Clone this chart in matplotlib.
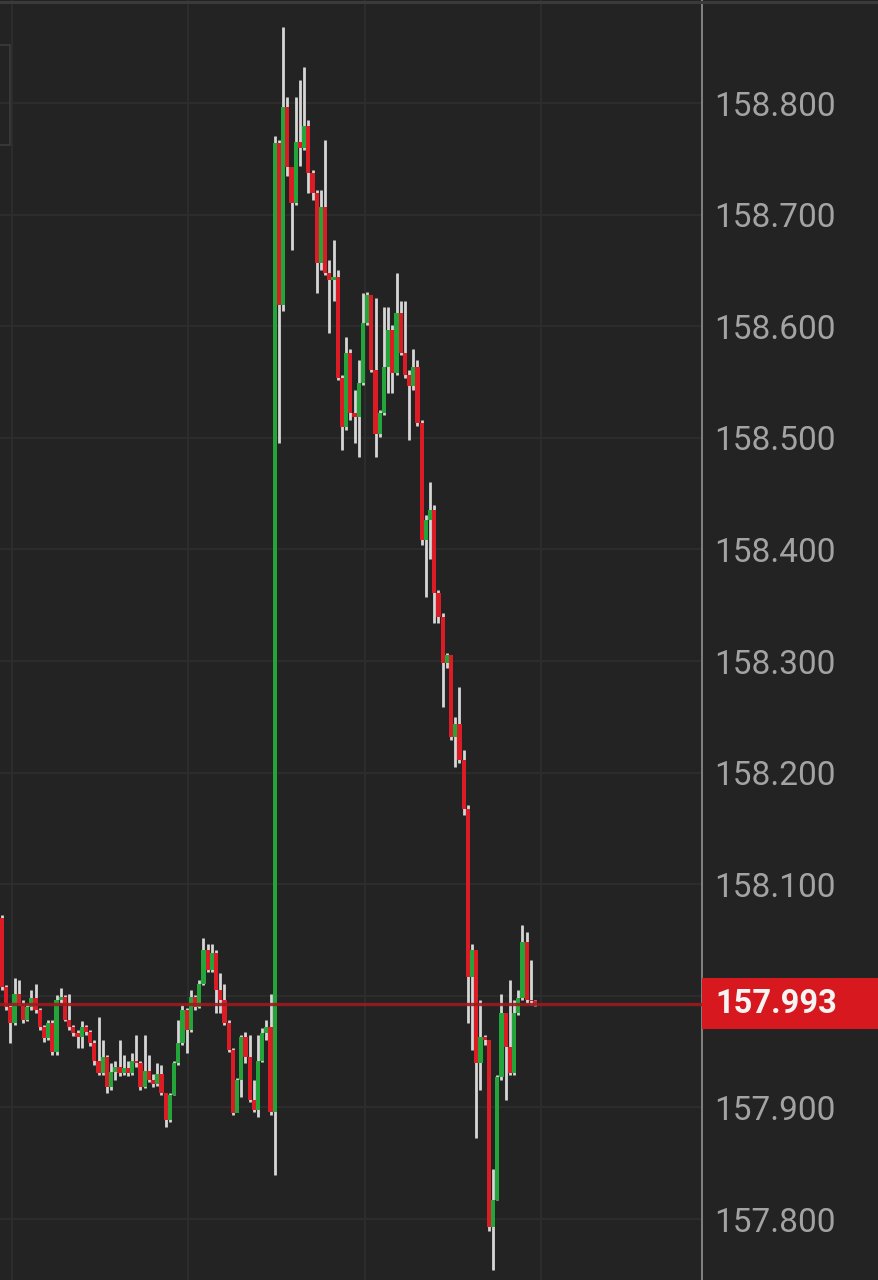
import numpy as np
import matplotlib
matplotlib.use("Agg")
import matplotlib.pyplot as plt
from matplotlib.patches import Rectangle
from matplotlib.transforms import blended_transform_factory

plt.rcParams['font.family'] = ['Roboto', 'DejaVu Sans']

# ---- data ----
first_open = 158.070
closes = [158.008, 157.990, 157.976, 158.002, 157.993, 157.978, 157.990, 157.998, 157.987, 157.972,
          157.962, 157.976, 157.950, 157.996, 157.999, 157.978, 157.972, 157.967, 157.963, 157.972,
          157.968, 157.958, 157.942, 157.931, 157.945, 157.918, 157.932, 157.936, 157.931, 157.935,
          157.931, 157.942, 157.940, 157.918, 157.933, 157.925, 157.921, 157.930, 157.913, 157.889,
          157.911, 157.940, 157.958, 157.987, 157.969, 157.999, 157.990, 158.011, 158.041, 158.023,
          158.038, 158.005, 157.996, 157.976, 157.951, 157.895, 157.925, 157.963, 157.945, 157.907,
          157.898, 157.942, 157.967, 157.972, 157.896, 158.764, 158.619, 158.796, 158.743, 158.710,
          158.765, 158.760, 158.779, 158.737, 158.719, 158.657, 158.707, 158.648, 158.641, 158.644,
          158.554, 158.510, 158.576, 158.522, 158.519, 158.549, 158.603, 158.628, 158.561, 158.503,
          158.522, 158.563, 158.597, 158.558, 158.612, 158.576, 158.556, 158.546, 158.563, 158.513,
          158.408, 158.426, 158.435, 158.361, 158.339, 158.298, 158.305, 158.232, 158.244, 158.211,
          158.167, 158.017, 158.041, 157.940, 157.963, 157.960, 157.793, 157.817, 157.927, 157.985,
          157.954, 157.931, 157.985, 157.998, 158.048, 157.996, 157.995, 157.993]
highs = [158.072, 158.010, 157.992, 158.016, 158.014, 157.996, 157.993, 158.005, 158.011, 157.989,
         157.974, 157.978, 157.978, 158.001, 158.007, 158.001, 158.002, 157.974, 157.969, 157.977,
         157.974, 157.969, 157.960, 157.981, 157.960, 157.947, 157.940, 157.942, 157.960, 157.947,
         157.942, 157.949, 157.965, 157.942, 157.965, 157.947, 157.930, 157.940, 157.938, 157.913,
         157.913, 157.942, 157.978, 157.992, 157.989, 158.005, 158.001, 158.014, 158.052, 158.046,
         158.046, 158.041, 158.020, 158.011, 157.978, 157.953, 157.926, 157.965, 157.968, 157.965,
         157.925, 157.965, 157.971, 157.978, 158.002, 158.770, 158.767, 158.868, 158.805, 158.740,
         158.805, 158.821, 158.832, 158.785, 158.740, 158.722, 158.722, 158.767, 158.659, 158.677,
         158.650, 158.556, 158.590, 158.580, 158.543, 158.570, 158.630, 158.631, 158.628, 158.625,
         158.525, 158.617, 158.617, 158.601, 158.648, 158.623, 158.623, 158.561, 158.580, 158.570,
         158.516, 158.431, 158.460, 158.440, 158.364, 158.343, 158.307, 158.305, 158.250, 158.277,
         158.220, 158.171, 158.046, 158.037, 157.996, 157.965, 157.960, 157.845, 157.929, 158.002,
         157.985, 158.014, 157.996, 158.005, 158.063, 158.057, 158.032, 157.996]
lows = [158.005, 157.987, 157.958, 157.974, 157.992, 157.976, 157.977, 157.987, 157.985, 157.969,
        157.959, 157.960, 157.947, 157.947, 157.994, 157.977, 157.969, 157.964, 157.953, 157.953,
        157.965, 157.955, 157.938, 157.929, 157.929, 157.913, 157.916, 157.925, 157.928, 157.929,
        157.928, 157.929, 157.936, 157.916, 157.917, 157.923, 157.918, 157.919, 157.911, 157.882,
        157.887, 157.911, 157.938, 157.956, 157.949, 157.968, 157.987, 157.989, 158.010, 158.021,
        158.021, 157.985, 157.985, 157.974, 157.950, 157.893, 157.896, 157.909, 157.940, 157.905,
        157.896, 157.891, 157.941, 157.960, 157.893, 157.839, 158.495, 158.614, 158.735, 158.668,
        158.709, 158.744, 158.758, 158.719, 158.713, 158.630, 158.650, 158.646, 158.594, 158.623,
        158.552, 158.489, 158.507, 158.516, 158.495, 158.483, 158.547, 158.601, 158.559, 158.483,
        158.501, 158.520, 158.540, 158.540, 158.556, 158.574, 158.554, 158.498, 158.543, 158.511,
        158.404, 158.357, 158.391, 158.334, 158.334, 158.259, 158.294, 158.229, 158.205, 158.209,
        158.162, 157.976, 157.951, 157.873, 157.916, 157.956, 157.789, 157.754, 157.817, 157.925,
        157.907, 157.929, 157.929, 157.983, 157.996, 157.994, 157.992, 157.991]
price_ticks = [158.8, 158.7, 158.6, 158.5, 158.4, 158.3, 158.2, 158.1, 158.0, 157.9, 157.8]
time_grid = [2.4, 44.3, 86.5, 128.4]   # session separators, in bar units
last_price = 157.993

# ---- style ----
bg = '#232323'
grid_c = '#2e2e2e'
up_c = '#23a53a'
down_c = '#dc1c24'
wick_c = '#d6d6d6'
text_c = '#a3a3a3'

W, H = 879, 1280
fig = plt.figure(figsize=(W / 100, H / 100), dpi=100, facecolor=bg)
ax = fig.add_axes([0, 0, 702 / W, 1])
ax.set_facecolor(bg)

opens = [first_open] + closes[:-1]
o = np.array(opens)
c = np.array(closes)
h = np.array(highs)
l = np.array(lows)
x = np.arange(len(c))
up = c >= o

# wicks
ax.vlines(x, l, h, color=wick_c, lw=2.0, zorder=3)
# bodies
body_h = np.maximum(np.abs(c - o), 0.0008)
ax.bar(x, body_h, bottom=np.minimum(o, c), width=1.0,
       color=np.where(up, up_c, down_c), linewidth=0, zorder=4)

# last price line
ax.axhline(last_price, color='#9c1b1f', lw=2.4, alpha=0.9, zorder=5)

dx = 533 / (len(c) - 1)
ax.set_xlim(-2 / dx, 700 / dx)
ax.set_ylim(158.8923 - H / 1116, 158.8923)

ax.set_xticks(time_grid)
ax.set_yticks(price_ticks)
ax.grid(True, color=grid_c, lw=1.3, zorder=0)
ax.set_axisbelow(True)
ax.tick_params(axis='x', length=0, labelbottom=False)
ax.yaxis.tick_right()
ax.tick_params(axis='y', length=0, pad=9, labelsize=24, labelcolor=text_c)
ax.set_yticklabels(['%.3f' % p for p in price_ticks])
for lab in ax.get_yticklabels():
    if lab.get_text() == '158.000':
        lab.set_visible(False)

for s in ['left', 'top', 'bottom']:
    ax.spines[s].set_visible(False)
ax.spines['right'].set_color('#8a8a8a')
ax.spines['right'].set_linewidth(1.3)

# top border
fig.add_artist(plt.Line2D([0, 1], [1 - 1.5 / H, 1 - 1.5 / H], transform=fig.transFigure,
                          color='#3a3a3a', lw=2.2))
# partial panel box at left edge
fig.add_artist(Rectangle((-10 / W, 1 - 145 / H), 20 / W, 100 / H, transform=fig.transFigure,
                         fill=False, edgecolor='#3a3a3a', lw=1.3))

# last price tag
tr = blended_transform_factory(fig.transFigure, ax.transData)
box_h = 51 / 1116
fig.add_artist(Rectangle((702 / W, last_price - box_h / 2), 1 - 702 / W, box_h,
                         transform=tr, facecolor='#d7191f', edgecolor='none', zorder=6))
fig.text(715 / W, last_price, '%.3f' % last_price, transform=tr, color='#f4f4f4',
         fontsize=23.5, fontweight='bold', va='center', ha='left', zorder=7)

fig.savefig('out.png', dpi=100, facecolor=bg)
